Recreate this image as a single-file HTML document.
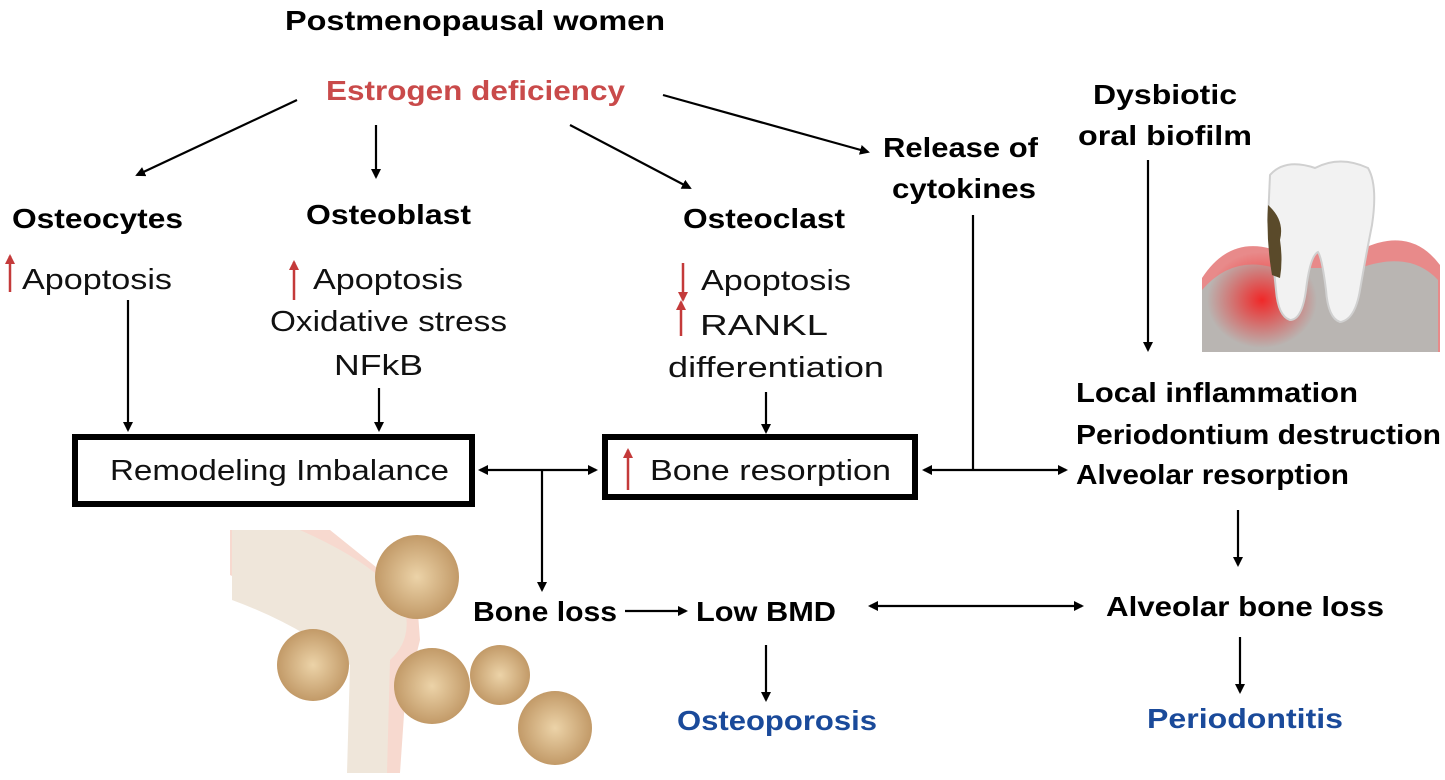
<!DOCTYPE html>
<html><head><meta charset="utf-8"><style>
html,body{margin:0;padding:0;background:#fff;}
svg{display:block;}
text{font-family:"Liberation Sans",sans-serif;}
.b{font-weight:bold;font-size:28px;fill:#000;}
.r{font-size:29px;fill:#111;}
</style></head><body>
<svg width="1445" height="780" viewBox="0 0 1445 780" xmlns="http://www.w3.org/2000/svg">
<defs>
<marker id="a" markerWidth="10" markerHeight="10" refX="8" refY="5" orient="auto-start-reverse" markerUnits="userSpaceOnUse"><path d="M0,0 L10,5 L0,10 z" fill="#000"/></marker>
<marker id="ra" markerWidth="10" markerHeight="10" refX="8" refY="5" orient="auto" markerUnits="userSpaceOnUse"><path d="M0,0 L10,5 L0,10 z" fill="#c43a3a"/></marker>
<radialGradient id="sp" cx="50%" cy="50%" r="50%"><stop offset="0" stop-color="#ecd3a8"/><stop offset="1" stop-color="#c29a68"/></radialGradient>
<radialGradient id="inf" cx="50%" cy="50%" r="50%"><stop offset="0" stop-color="#f02828"/><stop offset="1" stop-color="#f02828" stop-opacity="0"/></radialGradient>
</defs>
<g stroke="#000" stroke-width="2.2" fill="none">
<line x1="297" y1="100" x2="137" y2="175" marker-end="url(#a)"/>
<line x1="376" y1="125" x2="376" y2="177" marker-end="url(#a)"/>
<line x1="570" y1="125" x2="690" y2="188" marker-end="url(#a)"/>
<line x1="663" y1="95" x2="868" y2="152" marker-end="url(#a)"/>
<line x1="128" y1="300" x2="128" y2="430" marker-end="url(#a)"/>
<line x1="379" y1="388" x2="379" y2="430" marker-end="url(#a)"/>
<line x1="766" y1="392" x2="766" y2="432" marker-end="url(#a)"/>
<line x1="480" y1="470" x2="596" y2="470" marker-start="url(#a)" marker-end="url(#a)"/>
<line x1="542" y1="470" x2="542" y2="590" marker-end="url(#a)"/>
<line x1="973" y1="215" x2="973" y2="470"/>
<line x1="924" y1="470" x2="1066" y2="470" marker-start="url(#a)" marker-end="url(#a)"/>
<line x1="1148" y1="160" x2="1148" y2="350" marker-end="url(#a)"/>
<line x1="1238" y1="510" x2="1238" y2="565" marker-end="url(#a)"/>
<line x1="625" y1="611" x2="686" y2="611" marker-end="url(#a)"/>
<line x1="870" y1="606" x2="1082" y2="606" marker-start="url(#a)" marker-end="url(#a)"/>
<line x1="766" y1="645" x2="766" y2="700" marker-end="url(#a)"/>
<line x1="1240" y1="637" x2="1240" y2="692" marker-end="url(#a)"/>
</g>
<rect x="75" y="437" width="397" height="67" fill="none" stroke="#000" stroke-width="6"/>
<rect x="605" y="437" width="310" height="60" fill="none" stroke="#000" stroke-width="6"/>
<g stroke="#c43a3a" stroke-width="2.5">
<line x1="10" y1="292" x2="10" y2="256" marker-end="url(#ra)"/>
<line x1="294" y1="300" x2="294" y2="262" marker-end="url(#ra)"/>
<line x1="683" y1="263" x2="683" y2="300" marker-end="url(#ra)"/>
<line x1="681" y1="336" x2="681" y2="302" marker-end="url(#ra)"/>
<line x1="628" y1="490" x2="628" y2="450" marker-end="url(#ra)"/>
</g>
<g lengthAdjust="spacingAndGlyphs">
<text class="b" x="285" y="30" textLength="380" lengthAdjust="spacingAndGlyphs">Postmenopausal women</text>
<text class="b" x="326" y="100" textLength="299" lengthAdjust="spacingAndGlyphs" style="fill:#c94a4a">Estrogen deficiency</text>
<text class="b" x="883" y="157" textLength="155" lengthAdjust="spacingAndGlyphs">Release of</text>
<text class="b" x="892" y="198" textLength="144" lengthAdjust="spacingAndGlyphs">cytokines</text>
<text class="b" x="1093" y="104" textLength="144" lengthAdjust="spacingAndGlyphs">Dysbiotic</text>
<text class="b" x="1078" y="145" textLength="174" lengthAdjust="spacingAndGlyphs">oral biofilm</text>
<text class="b" x="12" y="228" textLength="171" lengthAdjust="spacingAndGlyphs">Osteocytes</text>
<text class="b" x="306" y="224" textLength="165" lengthAdjust="spacingAndGlyphs">Osteoblast</text>
<text class="b" x="683" y="228" textLength="162" lengthAdjust="spacingAndGlyphs">Osteoclast</text>
<text class="r" x="22" y="289" textLength="150" lengthAdjust="spacingAndGlyphs">Apoptosis</text>
<text class="r" x="313" y="289" textLength="150" lengthAdjust="spacingAndGlyphs">Apoptosis</text>
<text class="r" x="270" y="331" textLength="237" lengthAdjust="spacingAndGlyphs">Oxidative stress</text>
<text class="r" x="334" y="375" textLength="89" lengthAdjust="spacingAndGlyphs">NFkB</text>
<text class="r" x="701" y="290" textLength="150" lengthAdjust="spacingAndGlyphs">Apoptosis</text>
<text class="r" x="700" y="335" textLength="128" lengthAdjust="spacingAndGlyphs">RANKL</text>
<text class="r" x="668" y="377" textLength="216" lengthAdjust="spacingAndGlyphs">differentiation</text>
<text class="r" x="110" y="480" textLength="339" lengthAdjust="spacingAndGlyphs">Remodeling Imbalance</text>
<text class="r" x="650" y="480" textLength="241" lengthAdjust="spacingAndGlyphs">Bone resorption</text>
<text class="b" x="1076" y="402" textLength="282" lengthAdjust="spacingAndGlyphs">Local inflammation</text>
<text class="b" x="1076" y="444" textLength="365" lengthAdjust="spacingAndGlyphs">Periodontium destruction</text>
<text class="b" x="1076" y="484" textLength="273" lengthAdjust="spacingAndGlyphs">Alveolar resorption</text>
<text class="b" x="473" y="621" textLength="144" lengthAdjust="spacingAndGlyphs">Bone loss</text>
<text class="b" x="696" y="621" textLength="140" lengthAdjust="spacingAndGlyphs">Low BMD</text>
<text class="b" x="1106" y="616" textLength="278" lengthAdjust="spacingAndGlyphs">Alveolar bone loss</text>
<text class="b" x="677" y="730" textLength="200" lengthAdjust="spacingAndGlyphs" style="fill:#1a4a9a">Osteoporosis</text>
<text class="b" x="1147" y="728" textLength="196" lengthAdjust="spacingAndGlyphs" style="fill:#1a4a9a">Periodontitis</text>
</g>
<!-- tooth -->
<g>
<path d="M1202,278 Q1230,235 1275,250 L1360,250 Q1410,225 1440,265 L1440,352 L1202,352 Z" fill="#e88a8a"/>
<path d="M1202,290 Q1232,255 1275,268 L1360,268 Q1410,250 1438,280 L1438,352 L1202,352 Z" fill="#b9b5b2"/>
<ellipse cx="1262" cy="300" rx="55" ry="48" fill="url(#inf)"/>
<path d="M1270,175 Q1285,158 1315,168 Q1340,155 1368,168 Q1378,185 1372,225 Q1366,255 1360,290 Q1355,320 1340,322 Q1328,318 1326,290 Q1322,258 1318,252 Q1310,256 1306,290 Q1302,320 1290,320 Q1278,316 1276,290 Q1272,250 1268,220 Z" fill="#f2f2f2" stroke="#d0d0d0" stroke-width="2"/>
<path d="M1268,205 Q1285,220 1280,240 Q1283,260 1280,278 L1272,275 Q1266,240 1268,205Z" fill="#5a4a2a"/>
</g>
<!-- knee -->
<g>
<path d="M230,530 L330,530 L417,600 L420,640 L405,700 L400,773 L360,773 L365,660 L300,610 L230,575 Z" fill="#f7d9cf"/>
<path d="M232,530 L300,530 Q390,570 405,610 Q412,640 390,660 L387,773 L347,773 L350,665 Q300,625 232,600 Z" fill="#efe6da"/>
<circle cx="417" cy="577" r="42" fill="url(#sp)"/>
<circle cx="313" cy="665" r="36" fill="url(#sp)"/>
<circle cx="432" cy="686" r="38" fill="url(#sp)"/>
<circle cx="500" cy="675" r="30" fill="url(#sp)"/>
<circle cx="555" cy="728" r="37" fill="url(#sp)"/>
</g>
</svg>
</body></html>
